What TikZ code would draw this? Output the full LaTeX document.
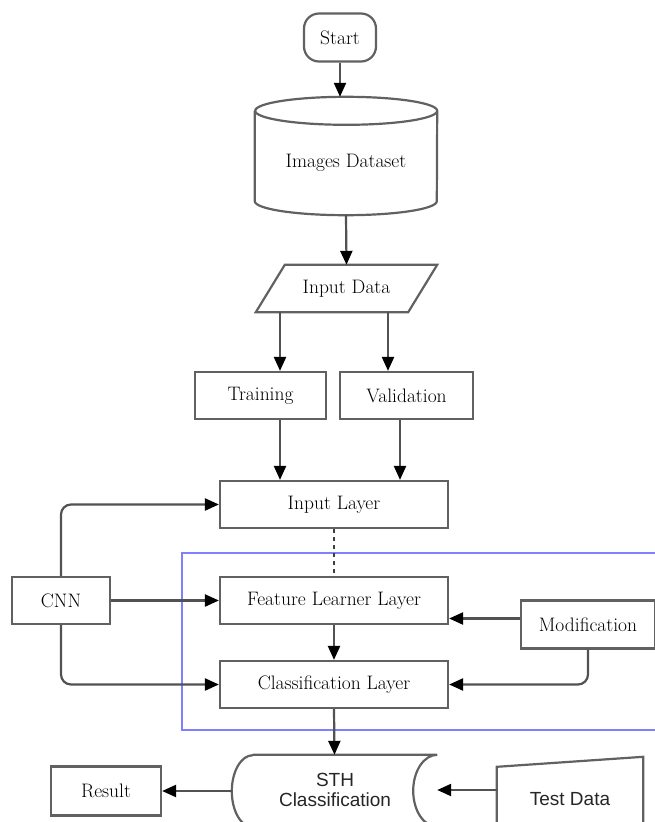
\documentclass[tikz,border=0pt]{standalone}
\usepackage{fontspec}
\setsansfont{Liberation Sans}
\usetikzlibrary{arrows.meta,calc,positioning}

\begin{document}
\begin{tikzpicture}[x=1pt,y=1pt,
    txt/.style={font=\fontsize{19.5}{22}\selectfont, inner sep=0pt},
    box/.style={txt, draw=black!62, line width=2.2pt, fill=white, minimum height=47pt},
    shp/.style={draw=black!62, line width=2.2pt, fill=white},
    link/.style={draw=black!68, line width=2.2pt, -{Triangle[length=14pt,width=12pt,color=black]}},
    ]
\useasboundingbox (0,0) rectangle (655,-822);
\clip (0,0) rectangle (655,-822);

% group frame
\draw[blue!50, line width=2pt] (182,-553) rectangle (700,-730);

\node[box, rounded corners=15pt, minimum width=72pt, minimum height=48pt] (start) at (340,-37.5) {Start};

% cylinder
\node[txt, minimum width=182pt, minimum height=118pt] (dataset) at (346,-156) {};
\draw[shp] ([yshift=-14pt]dataset.north west) -- ([yshift=14pt]dataset.south west)
    arc[start angle=180, end angle=360, x radius=91pt, y radius=14pt]
    -- ([yshift=-14pt]dataset.north east)
    arc[start angle=0, end angle=360, x radius=91pt, y radius=14pt];
\node[txt] (dslabel) at ([yshift=-7pt]dataset.center) {Images Dataset};

% parallelogram
\node[txt, minimum width=181pt, minimum height=47pt] (input) at (346.5,-288.5) {};
\draw[shp] ([xshift=29pt]input.north west) -- (input.north east)
    -- ([xshift=-29pt]input.south east) -- (input.south west) -- cycle;
\node[txt] (inlabel) at (input.center) {Input Data};

\node[box, minimum width=131pt] (train) at (260.5,-395.5) {Training};
\node[box, minimum width=133pt] (valid) at (406.5,-395.5) {Validation};

\node[box, minimum width=228pt] (il) at (334,-504.5) {Input Layer};
\node[box, minimum width=228pt] (fl) at (334,-600.5) {Feature Learner Layer};
\node[box, minimum width=228pt] (cl) at (334,-684.5) {Classification Layer};
\node[box, minimum width=98pt] (cnn) at (61,-600.5) {CNN};
\node[box, minimum width=134pt, minimum height=48pt] (modif) at (588,-624.5) {Modification};
\node[box, minimum width=110pt, minimum height=49pt] (result) at (106,-791) {Result};

% stored data
\node[txt, minimum width=205pt, minimum height=72pt] (sth) at (334.5,-791) {};
\draw[shp] ([xshift=21pt]sth.north west) -- (sth.north east)
    arc[start angle=90, end angle=270, x radius=24pt, y radius=36pt]
    -- ([xshift=21pt]sth.south west)
    arc[start angle=270, end angle=90, x radius=21pt, y radius=36pt];
\node[txt, text=black!85, font=\sffamily\fontsize{19}{20}\selectfont, align=center] (sthlabel) at (335,-790) {STH\\Classification};

% manual input
\node[txt, minimum width=146pt, minimum height=84pt] (test) at (570,-799) {};
\draw[shp] (test.south west) -- ([yshift=-10pt]test.north west)
    -- (test.north east) -- (test.south east) -- cycle;
\node[txt, text=black!85, font=\sffamily\fontsize{19}{20}\selectfont] (testlabel) at (test.center) {Test Data};

% connectors
\draw[link] (start.south) -- (start.south |- dataset.north);
\draw[link] (dataset.south) -- (input.north);
\draw[link] ([xshift=-66.5pt]input.south) -- ([xshift=19.5pt]train.north);
\draw[link] ([xshift=41.5pt]input.south) -- ([xshift=-18.5pt]valid.north);
\draw[link] ([xshift=19.5pt]train.south) -- ([xshift=-54pt]il.north);
\draw[link] ([xshift=-6.5pt]valid.south) -- ([xshift=66pt]il.north);
\draw[draw=black!75, line width=2.2pt, dash pattern=on 4pt off 4pt] (il.south) -- (fl.north);
\draw[link, rounded corners=10pt] (cnn.north) |- (il.west);
\draw[link] (cnn.east) -- (fl.west);
\draw[link, rounded corners=10pt] (cnn.south) |- (cl.west);
\draw[link] ([yshift=6pt]modif.west) -- ([yshift=-18pt]fl.east);
\draw[link, rounded corners=10pt] (modif.south) |- (cl.east);
\draw[link] (fl.south) -- (cl.north);
\draw[link] (cl.south) -- (sth.north);
\draw[link] (sth.west) -- (result.east);
\draw[link] ([yshift=9pt]test.west) -- ([yshift=1pt]sth.east);

\end{tikzpicture}
\end{document}
